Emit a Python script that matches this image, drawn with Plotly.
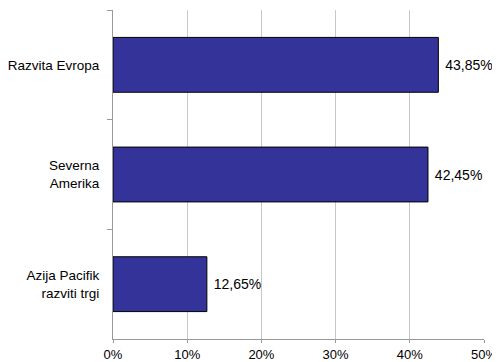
import plotly.graph_objects as go

categories = ["Razvita Evropa", "Severna<br>Amerika", "Azija Pacifik<br>razviti trgi"]
values = [43.85, 42.45, 12.65]
x_ticks = [0, 10, 20, 30, 40, 50]
x_tick_labels = ["0%", "10%", "20%", "30%", "40%", "50%"]

labels = ["\u00a0" + f"{v:.2f}%".replace(".", ",") for v in values]

fig = go.Figure(go.Bar(
    x=values, y=categories, orientation="h",
    marker=dict(color="#333399", line=dict(color="black", width=1)),
    text=labels, textposition="outside",
    textfont=dict(family="Liberation Sans, Arial", size=14, color="black"),
    width=0.5, cliponaxis=False,
))

fig.update_layout(
    width=492, height=354,
    margin=dict(l=105, r=16, t=2, b=23),
    paper_bgcolor="white", plot_bgcolor="white",
    font=dict(family="Liberation Sans, Arial", size=13.5, color="black"),
    showlegend=False,
    xaxis=dict(range=[0, 50], tickvals=x_ticks, ticktext=x_tick_labels,
               showgrid=True, gridcolor="#c8c8c8", gridwidth=1,
               showline=True, linecolor="#999999", linewidth=1,
               ticks="outside", ticklen=3, tickcolor="#999999",
               zeroline=False, tickfont=dict(size=13), automargin=False,
               ticklabelstandoff=0),
    yaxis=dict(autorange="reversed", showline=True, linecolor="#999999", linewidth=1,
               ticks="outside", ticklen=5, tickcolor="#999999", tickson="boundaries",
               showgrid=False, tickfont=dict(size=13.5), ticklabelstandoff=10,
               automargin=False),
)

fig.write_html("out.html")
